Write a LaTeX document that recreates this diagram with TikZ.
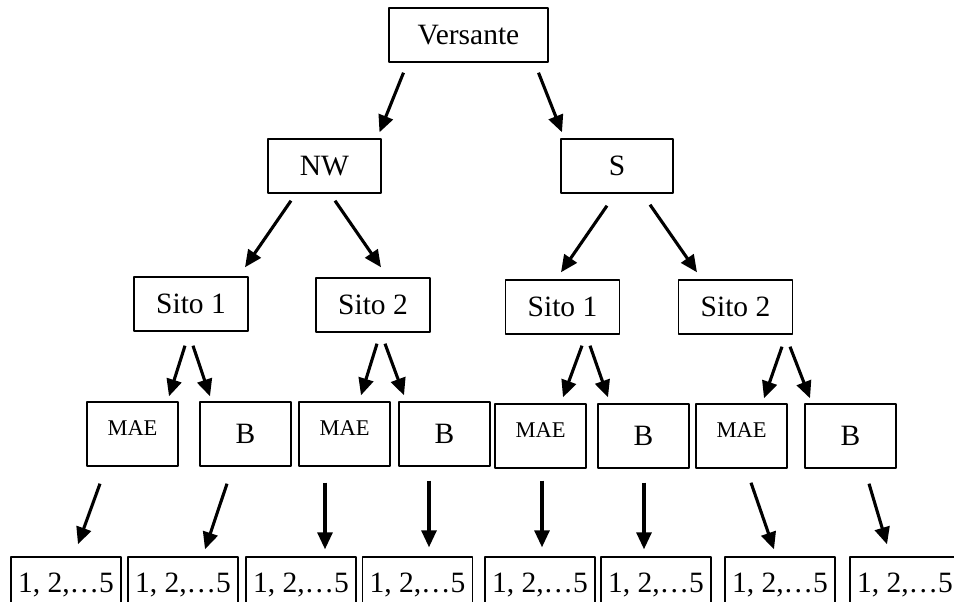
\documentclass[tikz,border=0pt]{standalone}
\usepackage{fontspec}
\setmainfont{Liberation Serif}
\usetikzlibrary{arrows.meta}

\tikzset{
  box/.style={draw, line width=1.4pt, inner sep=0pt, minimum height=54pt,
    font=\fontsize{29.5}{32}\selectfont},
  sitebox/.style={box, minimum width=114pt},
  levelbox/.style={box, minimum width=91pt, minimum height=64pt},
  maebox/.style={levelbox, font=\fontsize{22.5}{25}\selectfont,
    text height=15pt, text depth=13pt},
  repbox/.style={box, minimum width=110pt, minimum height=56pt},
  arr/.style={line width=3.1pt, -{Triangle[length=17pt,width=15pt]}},
}

\begin{document}
\begin{tikzpicture}[x=1pt, y=-1pt, line join=round]
  \useasboundingbox (0,0) rectangle (954,602);
  \clip (0,0) rectangle (954,602);

  % Top levels
  \node[box, minimum width=159pt] (V) at (468.5,35) {Versante};
  \node[box, minimum width=113pt] (NW) at (324.5,166) {NW};
  \node[box, minimum width=112pt] (S) at (617,166) {S};

  % Sites
  \node[sitebox] (ns1) at (191,304) {Sito 1};
  \node[sitebox] (ns2) at (373,305) {Sito 2};
  \node[sitebox] (ss1) at (562.5,307) {Sito 1};
  \node[sitebox] (ss2) at (735.5,307) {Sito 2};

  % MAE and B
  \node[maebox] (m1) at (132.5,434) {MAE};
  \node[levelbox] (b1) at (245.5,434) {B};
  \node[maebox] (m2) at (344.5,434) {MAE};
  \node[levelbox] (b2) at (444.5,434) {B};
  \node[maebox] (m3) at (540.5,436) {MAE};
  \node[levelbox] (b3) at (643.5,436) {B};
  \node[maebox] (m4) at (741.5,436) {MAE};
  \node[levelbox] (b4) at (850.5,436) {B};

  % Replicates
  \node[repbox] (r1) at (66,585) {1, 2,…5};
  \node[repbox] (r2) at (183,585) {1, 2,…5};
  \node[repbox] (r3) at (301,585) {1, 2,…5};
  \node[repbox] (r4) at (417.5,585) {1, 2,…5};
  \node[repbox] (r5) at (540,585) {1, 2,…5};
  \node[repbox] (r6) at (656,585) {1, 2,…5};
  \node[repbox] (r7) at (780,585) {1, 2,…5};
  \node[repbox] (r8) at (905,585) {1, 2,…5};

  % Arrows from Versante
  \draw[arr] ([xshift=-65pt,yshift=-10pt]V.south) -- ([xshift=55pt,yshift=6pt]NW.north);
  \draw[arr] ([xshift=70pt,yshift=-10pt]V.south) -- ([xshift=-55pt,yshift=6pt]S.north);

  % Arrows to sites
  \draw[arr] ([xshift=-33.5pt,yshift=-7pt]NW.south) -- ([xshift=54pt,yshift=9pt]ns1.north);
  \draw[arr] ([xshift=10.5pt,yshift=-7pt]NW.south) -- ([xshift=8pt,yshift=10pt]ns2.north);
  \draw[arr] ([xshift=-10pt,yshift=-12pt]S.south) -- ([xshift=-1.5pt,yshift=7pt]ss1.north);
  \draw[arr] ([xshift=33pt,yshift=-11pt]S.south) -- ([xshift=-38.5pt,yshift=7pt]ss2.north);

  % Arrows to MAE and B
  \draw[arr] ([xshift=-6pt,yshift=-14pt]ns1.south) -- ([xshift=36.5pt,yshift=5pt]m1.north);
  \draw[arr] ([xshift=2pt,yshift=-14pt]ns1.south) -- ([xshift=-35.5pt,yshift=5pt]b1.north);
  \draw[arr] ([xshift=4pt,yshift=-11pt]ns2.south) -- ([xshift=16.5pt,yshift=6pt]m2.north);
  \draw[arr] ([xshift=12pt,yshift=-11pt]ns2.south) -- ([xshift=-40.5pt,yshift=6pt]b2.north);
  \draw[arr] ([xshift=19.5pt,yshift=-11pt]ss1.south) -- ([xshift=22.5pt,yshift=6pt]m3.north);
  \draw[arr] ([xshift=27.5pt,yshift=-11pt]ss1.south) -- ([xshift=-35.5pt,yshift=6pt]b3.north);
  \draw[arr] ([xshift=46.5pt,yshift=-12pt]ss2.south) -- ([xshift=22.5pt,yshift=5pt]m4.north);
  \draw[arr] ([xshift=54.5pt,yshift=-12pt]ss2.south) -- ([xshift=-40.5pt,yshift=5pt]b4.north);

  % Arrows to replicates
  \draw[arr] ([xshift=-32.5pt,yshift=-17pt]m1.south) -- ([xshift=12pt,yshift=12pt]r1.north);
  \draw[arr] ([xshift=-18.5pt,yshift=-17pt]b1.south) -- ([xshift=22pt,yshift=7pt]r2.north);
  \draw[arr] ([xshift=-19.5pt,yshift=-16pt]m2.south) -- ([xshift=24pt,yshift=7pt]r3.north);
  \draw[arr] ([xshift=-15.5pt,yshift=-14pt]b2.south) -- ([xshift=11.5pt,yshift=9pt]r4.north);
  \draw[arr] ([xshift=1.5pt,yshift=-12pt]m3.south) -- ([xshift=2pt,yshift=9pt]r5.north);
  \draw[arr] ([xshift=0.5pt,yshift=-14pt]b3.south) -- ([xshift=-12pt,yshift=7pt]r6.north);
  \draw[arr] ([xshift=9.5pt,yshift=-14pt]m4.south) -- ([xshift=-6pt,yshift=7pt]r7.north);
  \draw[arr] ([xshift=18.5pt,yshift=-15pt]b4.south) -- ([xshift=-18pt,yshift=12pt]r8.north);
\end{tikzpicture}
\end{document}
